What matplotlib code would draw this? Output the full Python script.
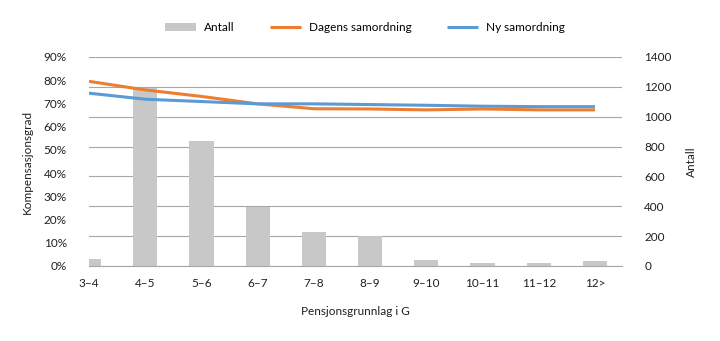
import matplotlib.pyplot as plt
import numpy as np

categories = ['3–4', '4–5', '5–6', '6–7', '7–8', '8–9', '9–10', '10–11', '11–12', '12>']
antall = [45, 1190, 835, 397, 228, 200, 40, 20, 20, 32]
dagens = [0.795, 0.758, 0.730, 0.698, 0.677, 0.676, 0.672, 0.676, 0.672, 0.672]
ny = [0.744, 0.718, 0.708, 0.698, 0.698, 0.695, 0.692, 0.688, 0.686, 0.686]

plt.rcParams['font.family'] = ['Lato', 'DejaVu Sans']
fs = 8.5

grey = '#c8c8c8'
orange = '#ed7d31'
blue = '#5b9bd5'
gridc = '#a6a6a6'
txt = '#231f20'

x = np.arange(len(categories))

fig = plt.figure(figsize=(7.2, 3.41), dpi=100)
ax = fig.add_axes([0.1236, 0.22, 0.7403, 0.613])
ax2 = ax.twinx()

# bars on the right axis, lines on the left (drawn on top)
ax.set_zorder(ax2.get_zorder() + 1)
ax.patch.set_visible(False)

ax2.bar(x, antall, width=0.43, color=grey, zorder=2, label='Antall')
ax2.set_ylim(0, 1400)
ax2.set_yticks(range(0, 1401, 200))
ax2.grid(axis='y', color=gridc, linewidth=0.8, zorder=0)
ax2.set_axisbelow(True)

ax.plot(x, dagens, color=orange, linewidth=2.2, label='Dagens samordning', solid_capstyle='butt')
ax.plot(x, ny, color=blue, linewidth=2.2, label='Ny samordning', solid_capstyle='butt')
ax.set_ylim(0, 0.9)
ax.set_yticks(np.arange(0, 0.91, 0.1))
ax.set_yticklabels([f'{int(round(v * 100))}%' for v in np.arange(0, 0.91, 0.1)])
ax.set_xlim(0, 9.48)
ax.set_xticks(x)
ax.set_xticklabels(categories)

for a in (ax, ax2):
    for s in a.spines.values():
        s.set_visible(False)
    a.tick_params(length=0, colors=txt, labelsize=fs)
ax.spines['bottom'].set_visible(True)
ax.spines['bottom'].set_color(gridc)
ax.tick_params(axis='y', pad=16)
ax.tick_params(axis='x', pad=9)
ax2.tick_params(axis='y', pad=16)

ax.set_ylabel('Kompensasjonsgrad', color=txt, fontsize=fs, labelpad=8)
ax2.set_ylabel('Antall', color=txt, fontsize=fs, labelpad=10)
ax.set_xlabel('Pensjonsgrunnlag i G', color=txt, fontsize=fs, labelpad=12)

h1, l1 = ax2.get_legend_handles_labels()
h2, l2 = ax.get_legend_handles_labels()
fig.legend(h1 + h2, l1 + l2, loc='center', bbox_to_anchor=(0.507, 0.92), ncol=3,
           frameon=False, fontsize=fs, handlelength=2.6, handleheight=0.7,
           columnspacing=3.0, handletextpad=0.7)

fig.savefig('out.png', dpi=100)
